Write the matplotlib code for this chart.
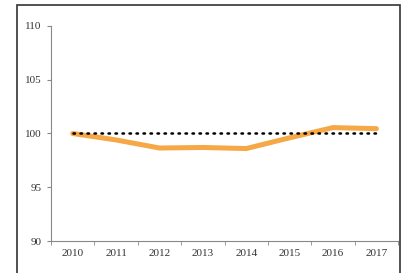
import numpy as np
import matplotlib.pyplot as plt
from matplotlib.patches import Rectangle

anios = ['2010', '2011', '2012', '2013', '2014', '2015', '2016', '2017']
indice = [100.0, 99.4, 98.65, 98.7, 98.6, 99.6, 100.55, 100.45]
base = [100] * len(anios)

plt.rcParams['font.family'] = ['Liberation Serif', 'DejaVu Serif']

fig = plt.figure(figsize=(4.05, 2.73), dpi=100)
ax = fig.add_axes([0.126, 0.117, 0.857, 0.788])

x = np.arange(len(anios))
ax.plot(x, indice, color='#F5A845', lw=3.6, solid_capstyle='round', zorder=2)
ax.plot(x, base, color='black', lw=1.8, linestyle=(0, (0.6, 2.2)), dash_capstyle='round', zorder=3)

ax.set_xlim(-0.5, len(anios) - 0.5)
ax.set_ylim(90, 110)
ax.set_yticks([90, 95, 100, 105, 110])
ax.set_xticks(x)
ax.set_xticklabels(anios)
ax.set_xticks(np.arange(-0.5, len(anios)), minor=True)
ax.tick_params(axis='x', which='major', length=0, labelsize=8, pad=6, colors='#333333')
ax.tick_params(axis='x', which='minor', length=3, color='#888888', direction='out')
ax.tick_params(axis='y', length=3, color='#888888', labelsize=8, labelcolor='#333333', pad=4)

for s in ['top', 'right']:
    ax.spines[s].set_visible(False)
for s in ['left', 'bottom']:
    ax.spines[s].set_color('#888888')
    ax.spines[s].set_linewidth(0.8)

# marco exterior
fig.patches.append(Rectangle((17 / 405, -0.1), (400 - 17) / 405, 1.1 - 5 / 273,
                             transform=fig.transFigure, fill=False,
                             edgecolor='#333333', lw=1.2))

fig.savefig('out.png', dpi=100)
